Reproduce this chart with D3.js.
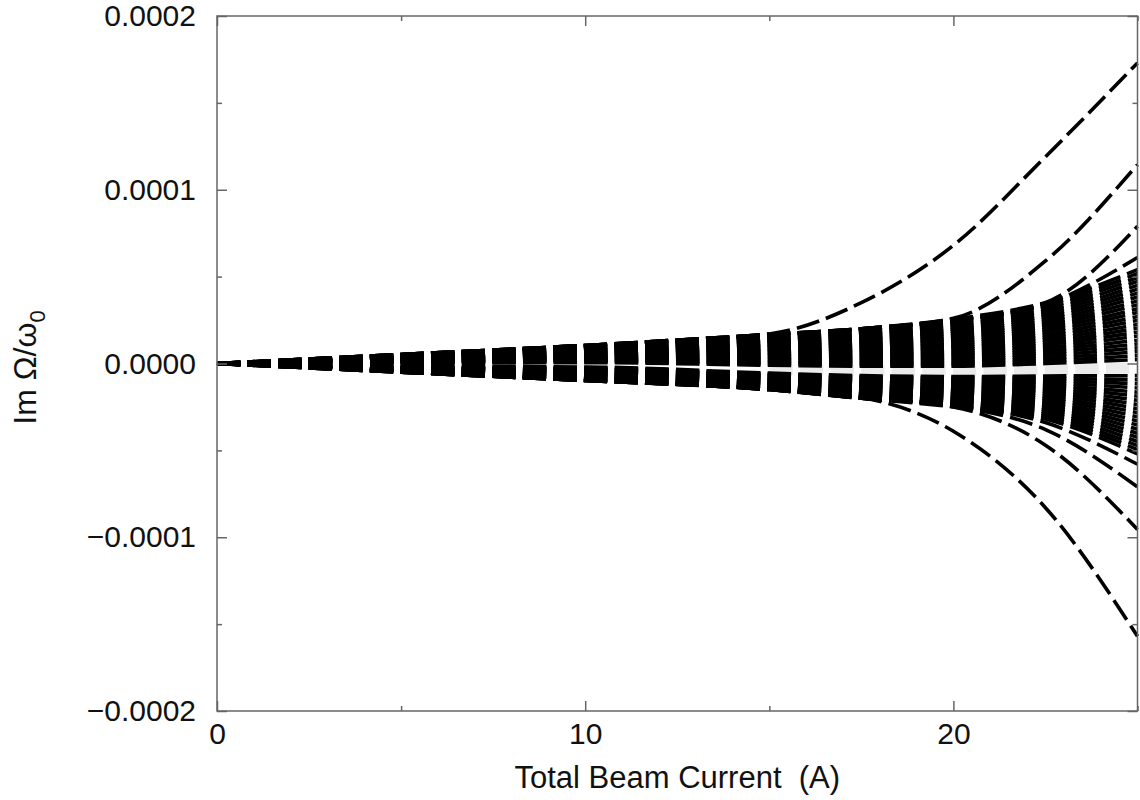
<!doctype html>
<html lang="en">
<head>
<meta charset="UTF-8">
<title>Im Omega vs beam current</title>
<style>
  body { margin: 0; background: #fff; }
  svg text { font-family: "Liberation Sans", Arial, Helvetica, sans-serif; fill: #111; white-space: pre; }
  .tick line { stroke: #666; stroke-width: 1.5; }
  .curve { fill: none; stroke: #000; stroke-width: 3.6; stroke-dasharray: 23.4 7.2; }
  .faint { fill: none; stroke: #ebebeb; stroke-width: 11; stroke-dasharray: 23.4 7.2; }
</style>
</head>
<body>
<div id="chart"></div>
<script src="https://d3js.org/d3.v7.min.js"></script>
<script>
// beam current samples (A)
const current = [0, 5, 10, 15, 17.5, 20, 22.5, 25]
// Im Omega/omega0 in units of 1e-5
const unit = 1e-5

// outer dashed curves that break away from the bundle
const outerCurves = [
  [0, 0.52, 1.04, 1.70, 3.50, 6.80, 11.90, 17.30],
  [0, 0.52, 1.04, 1.67, 2.00, 2.60, 5.90, 11.45],
  [0, 0.52, 1.04, 1.67, 2.00, 2.50, 3.50, 7.90],
  [0, 0.52, 1.04, 1.67, 2.00, 2.50, 3.40, 6.10],
  [0, -0.50, -0.98, -1.50, -1.96, -3.90, -8.30, -15.70],
  [0, -0.50, -0.98, -1.50, -2.00, -2.50, -4.70, -9.55],
  [0, -0.50, -0.98, -1.50, -2.00, -2.45, -3.80, -7.10],
  [0, -0.50, -0.98, -1.50, -2.00, -2.40, -3.40, -5.80]
]

// dense bundle, upper half
const upperBundle = [
  [0, 0.52, 1.04, 1.67, 2.00, 2.55, 3.50, 5.40],
  [0, 0.50, 1.00, 1.59, 1.91, 2.43, 3.35, 5.18],
  [0, 0.47, 0.95, 1.52, 1.81, 2.32, 3.20, 4.95],
  [0, 0.45, 0.91, 1.44, 1.72, 2.20, 3.04, 4.73],
  [0, 0.43, 0.87, 1.36, 1.63, 2.08, 2.89, 4.50],
  [0, 0.41, 0.82, 1.29, 1.53, 1.96, 2.74, 4.28],
  [0, 0.38, 0.78, 1.21, 1.44, 1.85, 2.59, 4.05],
  [0, 0.36, 0.74, 1.13, 1.35, 1.73, 2.43, 3.83],
  [0, 0.34, 0.70, 1.05, 1.25, 1.61, 2.28, 3.60],
  [0, 0.32, 0.65, 0.98, 1.16, 1.49, 2.13, 3.38],
  [0, 0.29, 0.61, 0.90, 1.07, 1.38, 1.98, 3.15],
  [0, 0.27, 0.57, 0.82, 0.97, 1.26, 1.83, 2.93],
  [0, 0.25, 0.52, 0.75, 0.88, 1.14, 1.67, 2.70],
  [0, 0.23, 0.48, 0.67, 0.78, 1.02, 1.52, 2.48],
  [0, 0.20, 0.44, 0.59, 0.69, 0.91, 1.37, 2.25],
  [0, 0.18, 0.39, 0.52, 0.60, 0.79, 1.22, 2.03],
  [0, 0.16, 0.35, 0.44, 0.50, 0.67, 1.07, 1.80],
  [0, 0.14, 0.31, 0.36, 0.41, 0.55, 0.91, 1.58],
  [0, 0.11, 0.27, 0.28, 0.32, 0.44, 0.76, 1.35],
  [0, 0.09, 0.22, 0.21, 0.22, 0.32, 0.61, 1.13],
  [0, 0.07, 0.18, 0.13, 0.13, 0.20, 0.46, 0.90],
  [0, 0.05, 0.14, 0.05, 0.04, 0.08, 0.30, 0.68],
  [0, 0.02, 0.09, -0.02, -0.06, -0.03, 0.15, 0.45],
  [0, 0.00, 0.05, -0.10, -0.15, -0.15, 0.00, 0.23]
]

// dense bundle, lower half
const lowerBundle = [
  [0, -0.50, -0.98, -1.50, -2.00, -2.50, -3.20, -5.20],
  [0, -0.48, -0.94, -1.45, -1.93, -2.41, -3.07, -4.96],
  [0, -0.47, -0.90, -1.40, -1.86, -2.32, -2.94, -4.73],
  [0, -0.45, -0.86, -1.35, -1.80, -2.22, -2.81, -4.49],
  [0, -0.43, -0.82, -1.30, -1.73, -2.13, -2.68, -4.25],
  [0, -0.41, -0.78, -1.25, -1.66, -2.04, -2.55, -4.02],
  [0, -0.40, -0.73, -1.20, -1.59, -1.95, -2.42, -3.78],
  [0, -0.38, -0.69, -1.15, -1.52, -1.86, -2.29, -3.54],
  [0, -0.36, -0.65, -1.10, -1.45, -1.76, -2.16, -3.31],
  [0, -0.34, -0.61, -1.05, -1.38, -1.67, -2.03, -3.07],
  [0, -0.33, -0.57, -1.00, -1.32, -1.58, -1.90, -2.83],
  [0, -0.31, -0.53, -0.95, -1.25, -1.49, -1.76, -2.60],
  [0, -0.29, -0.49, -0.90, -1.18, -1.39, -1.63, -2.36],
  [0, -0.27, -0.45, -0.85, -1.11, -1.30, -1.50, -2.12],
  [0, -0.26, -0.41, -0.80, -1.04, -1.21, -1.37, -1.88],
  [0, -0.24, -0.36, -0.75, -0.97, -1.12, -1.24, -1.65],
  [0, -0.22, -0.32, -0.70, -0.91, -1.03, -1.11, -1.41],
  [0, -0.21, -0.28, -0.65, -0.84, -0.93, -0.98, -1.17],
  [0, -0.19, -0.24, -0.60, -0.77, -0.84, -0.85, -0.94],
  [0, -0.17, -0.20, -0.55, -0.70, -0.75, -0.72, -0.70]
]

// pale grey trace seen in the gap between the two halves (only on the right)
const faintCurve = [null, null, null, -0.35, -0.40, -0.45, -0.35, -0.25]

const xTicks = [0, 10, 20]
const xMinor = [5, 15, 25]
const yTicks = [-0.0002, -0.0001, 0, 0.0001, 0.0002]
const yMinor = [-0.00015, -0.00005, 0.00005, 0.00015]

const width = 1140
const height = 800
const margin = {top: 16, right: 2.5, bottom: 89, left: 217}

const svg = d3.select('#chart').append('svg')
  .attr('width', width)
  .attr('height', height)

const x = d3.scaleLinear().domain([0, 25]).range([margin.left, width - margin.right])
const y = d3.scaleLinear().domain([-0.0002, 0.0002]).range([height - margin.bottom, margin.top])

const line = d3.line()
  .defined(d => d !== null)
  .x((d, i) => x(current[i]))
  .y(d => y(d * unit))
  .curve(d3.curveMonotoneX)

svg.append('path')
  .attr('class', 'faint')
  .attr('d', line(faintCurve))

const allCurves = upperBundle.concat(lowerBundle, outerCurves)

svg.append('g')
  .selectAll('path')
  .data(allCurves)
  .enter()
  .append('path')
  .attr('class', 'curve')
  .attr('d', line)

// axes with inward ticks
const fontSize = 30
const bottom = height - margin.bottom
const right = width - margin.right

function styleAxis (g) {
  g.select('.domain').remove()
  g.selectAll('text').style('font-size', fontSize + 'px').attr('fill', '#111')
}

svg.append('g').attr('transform', `translate(0,${bottom})`)
  .call(d3.axisBottom(x).tickValues(xTicks).tickSize(-10).tickSizeOuter(0).tickPadding(12).tickFormat(d3.format('d')))
  .call(styleAxis)
svg.append('g').attr('transform', `translate(0,${bottom})`)
  .call(d3.axisBottom(x).tickValues(xMinor).tickSize(-5).tickSizeOuter(0).tickFormat(''))
  .call(styleAxis)
svg.append('g').attr('transform', `translate(0,${margin.top})`)
  .call(d3.axisTop(x).tickValues(xTicks).tickSize(-10).tickSizeOuter(0).tickFormat(''))
  .call(styleAxis)
svg.append('g').attr('transform', `translate(0,${margin.top})`)
  .call(d3.axisTop(x).tickValues(xMinor).tickSize(-5).tickSizeOuter(0).tickFormat(''))
  .call(styleAxis)

svg.append('g').attr('transform', `translate(${margin.left},0)`)
  .call(d3.axisLeft(y).tickValues(yTicks).tickSize(-10).tickSizeOuter(0).tickPadding(21).tickFormat(d3.format('.4f')))
  .call(styleAxis)
svg.append('g').attr('transform', `translate(${margin.left},0)`)
  .call(d3.axisLeft(y).tickValues(yMinor).tickSize(-5).tickSizeOuter(0).tickFormat(''))
  .call(styleAxis)
svg.append('g').attr('transform', `translate(${right},0)`)
  .call(d3.axisRight(y).tickValues(yTicks).tickSize(-10).tickSizeOuter(0).tickFormat(''))
  .call(styleAxis)
svg.append('g').attr('transform', `translate(${right},0)`)
  .call(d3.axisRight(y).tickValues(yMinor).tickSize(-5).tickSizeOuter(0).tickFormat(''))
  .call(styleAxis)

// frame
svg.append('rect')
  .attr('x', margin.left)
  .attr('y', margin.top)
  .attr('width', right - margin.left)
  .attr('height', bottom - margin.top)
  .attr('fill', 'none')
  .attr('stroke', '#666')
  .attr('stroke-width', 1.5)

// axis titles
svg.append('text')
  .attr('x', (margin.left + right) / 2)
  .attr('y', 788)
  .attr('text-anchor', 'middle')
  .style('font-size', '31px')
  .text('Total Beam Current  (A)')

const yTitle = svg.append('text')
  .attr('transform', `translate(36,${(margin.top + bottom) / 2 + 4}) rotate(-90)`)
  .attr('text-anchor', 'middle')
  .style('font-size', '32px')
yTitle.append('tspan').text('Im Ω/ω')
yTitle.append('tspan').attr('dy', 9).style('font-size', '22px').text('0')
</script>
</body>
</html>
